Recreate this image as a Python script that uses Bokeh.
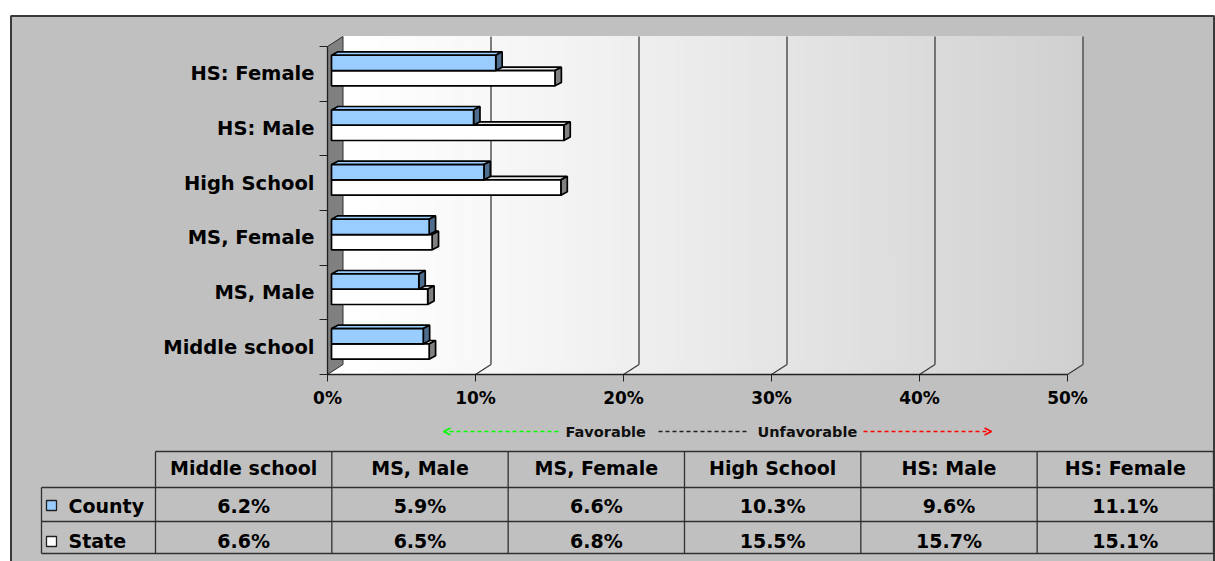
from bokeh.plotting import figure
from bokeh.models import Range1d, LinearAxis, FixedTicker, Arrow, OpenHead
from bokeh.core.properties import value
from bokeh.embed import file_html
from bokeh.resources import INLINE

# ---------------- data ----------------
categories = ["Middle school", "MS, Male", "MS, Female", "High School", "HS: Male", "HS: Female"]
series_names = ["County", "State"]
county = [6.2, 5.9, 6.6, 10.3, 9.6, 11.1]
state = [6.6, 6.5, 6.8, 15.5, 15.7, 15.1]
x_ticks = [0, 10, 20, 30, 40, 50]
x_tick_labels = ["0%", "10%", "20%", "30%", "40%", "50%"]
legend_words = ["Favorable", "Unfavorable"]

# ---------------- layout helpers ----------------
W, H = 1215, 561
OFF = 0                      # page offset of the figure
X0_PX, Y0_PX = 327, 374      # where (0%, first category edge) sits in the picture
PX_PCT = 14.8                # pixels per percent
PX_CAT = 54.67               # pixels per category band
NCAT = len(categories)
FNAME = "DejaVu Sans"
FONT = value(FNAME)


def px2x(px):
    return (px - X0_PX) / PX_PCT


def px2y(py):
    return (Y0_PX - py) / PX_CAT


DX = 15.5 / PX_PCT   # 3-D depth offset
DY = 10.0 / PX_CAT
BX = 4.0 / PX_PCT    # bar front-face offset
SDX = 6.4 / PX_PCT   # bar depth
SDY = 3.4 / PX_CAT

p = figure(width=W, height=H,
           x_range=Range1d(px2x(OFF), px2x(OFF + W)),
           y_range=Range1d(px2y(OFF + H), px2y(OFF)),
           output_backend="svg", toolbar_location=None,
           x_axis_location=None, y_axis_location=None,
           min_border=0, min_border_left=0, min_border_right=0,
           min_border_top=0, min_border_bottom=0,
           background_fill_color="white", border_fill_color="white",
           outline_line_color=None)
p.grid.visible = False

# chart area
p.quad(left=px2x(10.5), right=px2x(1213.5), top=px2y(15.5), bottom=px2y(900),
       fill_color="#C0C0C0", line_color="#3A3A3A", line_width=2)

# back wall + floor gradient
N = 80
xs, ys, cols = [], [], []
for k in range(N):
    a = x_ticks[-1] * k / N
    b = x_ticks[-1] * (k + 1) / N
    t = (k + 0.5) / N
    g = int(round(255 - (t ** 1.15) * (255 - 208)))
    c = "#%02x%02x%02x" % (g, g, g)
    xs.append([a, b, b + DX, b + DX, a + DX, a + DX])
    ys.append([0, 0, DY, NCAT + DY, NCAT + DY, DY])
    cols.append(c)
p.patches(xs=xs, ys=ys, fill_color=cols, line_color=cols, line_width=1)

# left wall
p.patch(x=[0, DX, DX, 0], y=[0, DY, NCAT + DY, NCAT],
        fill_color="#808080", line_color="#303030", line_width=1)

# gridlines on wall and floor
gx = x_ticks[1:]
p.segment(x0=[t + DX for t in gx], y0=[DY] * len(gx), x1=[t + DX for t in gx],
          y1=[NCAT + DY] * len(gx), line_color="#3C3C3C", line_width=1.3)
p.segment(x0=gx, y0=[0] * len(gx), x1=[t + DX for t in gx], y1=[DY] * len(gx),
          line_color="#3C3C3C", line_width=1.3)


# bars
def draw_series(vals, lo, hi, front, topc, side):
    top_xs, top_ys, side_xs, side_ys = [], [], [], []
    for i, v in enumerate(vals):
        r = BX + v
        top_xs.append([BX, r, r + SDX, BX + SDX])
        top_ys.append([i + hi, i + hi, i + hi + SDY, i + hi + SDY])
        side_xs.append([r, r + SDX, r + SDX, r])
        side_ys.append([i + lo, i + lo + SDY, i + hi + SDY, i + hi])
    p.patches(xs=top_xs, ys=top_ys, fill_color=topc, line_color="black", line_width=1.7)
    p.patches(xs=side_xs, ys=side_ys, fill_color=side, line_color="black", line_width=1.7)
    p.quad(left=[BX] * len(vals), right=[BX + v for v in vals],
           bottom=[i + lo for i in range(len(vals))], top=[i + hi for i in range(len(vals))],
           fill_color=front, line_color="black", line_width=1.7)


draw_series(state, 0.28, 0.56, "#FFFFFF", "#E8E8E8", "#808080")
draw_series(county, 0.56, 0.84, "#99CCFF", "#99CCFF", "#4F6D8C")

# axes
xaxis = LinearAxis(fixed_location=0, bounds=(x_ticks[0], x_ticks[-1]),
                   ticker=FixedTicker(ticks=x_ticks, minor_ticks=[]),
                   major_label_overrides={t: l for t, l in zip(x_ticks, x_tick_labels)},
                   axis_line_color="#202020", axis_line_width=1.3,
                   major_tick_line_color="#202020", major_tick_out=7, major_tick_in=0,
                   minor_tick_out=0, minor_tick_in=0,
                   major_label_text_font=FNAME, major_label_text_font_size="17px",
                   major_label_text_font_style="bold", major_label_text_color="black",
                   major_label_standoff=6)
p.add_layout(xaxis, "below")

yaxis_t = LinearAxis(fixed_location=0, bounds=(0, NCAT),
                     ticker=FixedTicker(ticks=list(range(NCAT + 1)), minor_ticks=[]),
                     axis_line_color="#202020", axis_line_width=1.3,
                     major_tick_line_color="#202020", major_tick_out=8, major_tick_in=0,
                     minor_tick_out=0, minor_tick_in=0,
                     major_label_text_color=None)
p.add_layout(yaxis_t, "left")

ypos = [i + 0.5 for i in range(NCAT)]
yaxis_l = LinearAxis(fixed_location=0,
                     ticker=FixedTicker(ticks=ypos, minor_ticks=[]),
                     major_label_overrides={y: c for y, c in zip(ypos, categories)},
                     axis_line_color=None, major_tick_line_color=None,
                     minor_tick_line_color=None, major_tick_out=0, major_tick_in=0,
                     minor_tick_out=0, minor_tick_in=0,
                     major_label_text_font=FNAME, major_label_text_font_size="19.5px",
                     major_label_text_font_style="bold", major_label_text_color="black",
                     major_label_standoff=13)
p.add_layout(yaxis_l, "left")

# favorable / unfavorable guide
yl = px2y(431)
p.add_layout(Arrow(x_start=px2x(558), y_start=yl, x_end=px2x(443), y_end=yl,
                   line_color="#00FF00", line_width=1.5, line_dash="4 3",
                   end=OpenHead(size=7, line_color="#00FF00", line_width=1.5)))
p.add_layout(Arrow(x_start=px2x(863), y_start=yl, x_end=px2x(991), y_end=yl,
                   line_color="#FF0000", line_width=1.5, line_dash="4 3",
                   end=OpenHead(size=7, line_color="#FF0000", line_width=1.5)))
p.segment(x0=[px2x(658)], y0=[yl], x1=[px2x(749)], y1=[yl],
          line_color="#202020", line_width=1.5, line_dash="4 3")
p.text(x=[px2x(565), px2x(757)], y=[yl, yl], text=legend_words,
       text_font=FONT, text_font_style="bold", text_font_size="14.5px",
       text_baseline="middle", text_align="left", text_color="#101010")

# data table
col_edges = [155 + 176.33 * k for k in range(NCAT + 1)]
row_y = [451, 487, 521, 553]
tl = "#303030"
p.segment(x0=[px2x(col_edges[0])], y0=[px2y(row_y[0])], x1=[px2x(col_edges[-1])],
          y1=[px2y(row_y[0])], line_color=tl, line_width=1.3)
p.segment(x0=[px2x(41)] * 3, y0=[px2y(r) for r in row_y[1:]],
          x1=[px2x(col_edges[-1])] * 3, y1=[px2y(r) for r in row_y[1:]],
          line_color=tl, line_width=1.3)
p.segment(x0=[px2x(c) for c in col_edges], y0=[px2y(row_y[0])] * len(col_edges),
          x1=[px2x(c) for c in col_edges], y1=[px2y(row_y[-1])] * len(col_edges),
          line_color=tl, line_width=1.3)
p.segment(x0=[px2x(41)], y0=[px2y(row_y[1])], x1=[px2x(41)], y1=[px2y(row_y[-1])],
          line_color=tl, line_width=1.3)

centers = [px2x((col_edges[k] + col_edges[k + 1]) / 2) for k in range(NCAT)]
tfont = dict(text_font=FONT, text_font_style="bold", text_font_size="19px",
             text_baseline="middle", text_color="black")
p.text(x=centers, y=[px2y(467.5)] * NCAT, text=categories, text_align="center", **tfont)
p.text(x=centers, y=[px2y(505)] * NCAT, text=["%.1f%%" % v for v in county],
       text_align="center", **tfont)
p.text(x=centers, y=[px2y(540)] * NCAT, text=["%.1f%%" % v for v in state],
       text_align="center", **tfont)
p.text(x=[px2x(68)] * 2, y=[px2y(505), px2y(540)], text=series_names,
       text_align="left", **tfont)
p.scatter(x=[px2x(51)] * 2, y=[px2y(505), px2y(541)], marker="square", size=10,
          fill_color=["#99CCFF", "#FFFFFF"], line_color="#202020", line_width=1.3)

open("out.html", "w").write(file_html(p, INLINE))
